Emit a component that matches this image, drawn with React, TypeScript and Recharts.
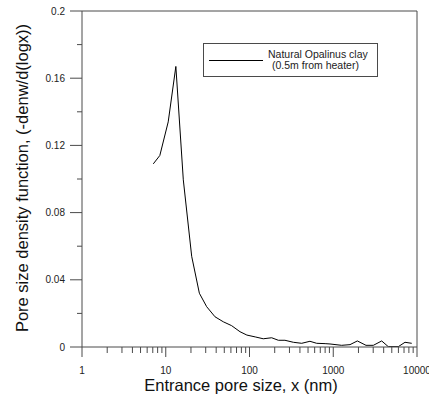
import React from "react";
import { LineChart, Line, XAxis, YAxis, ReferenceLine } from "recharts";

// entrance pore size (nm)
const poreSize = [
  7.1, 8.5, 10.7, 13.2, 16.2, 20.4, 25.2, 30.8, 38.7, 48.7, 61.2, 77, 93, 117,
  146, 184, 221, 265, 334, 420, 527, 634, 800, 914, 1260, 1585, 1940, 2460,
  3010, 3790, 4540, 5980, 7190, 8650,
];
// pore size density function (-denw/d(logx))
const density = [
  0.109, 0.114, 0.134, 0.167, 0.0995, 0.054, 0.032, 0.024, 0.018, 0.015,
  0.0127, 0.0091, 0.0071, 0.006, 0.0049, 0.0055, 0.004, 0.004, 0.0028, 0.0022,
  0.0034, 0.0022, 0.002, 0.0018, 0.001, 0.0014, 0.0036, 0.001, 0.001, 0.0036,
  0.0002, 0.0002, 0.0028, 0.0022,
];

const xMajorTicks = [1, 10, 100, 1000, 10000];
const xMinorTicks = [1, 10, 100, 1000].flatMap((d) =>
  [2, 3, 4, 5, 6, 7, 8, 9].map((m) => m * d)
);
const yMajorTicks = [0, 0.04, 0.08, 0.12, 0.16, 0.2];
const yMinorTicks = [0.02, 0.06, 0.1, 0.14, 0.18];

const seriesName = "Natural Opalinus clay";
const seriesNote = "(0.5m from heater)";
const xTitle = "Entrance pore size, x (nm)";
const yTitle = "Pore size density function, (-denw/d(logx))";

const FONT = '"Liberation Sans", Arial, sans-serif';
const AXIS = "#4a4a4a";

const data = poreSize.map((x, i) => ({ x, y: density[i] }));

function XTick(props: any) {
  const { x, y, payload } = props;
  const major = xMajorTicks.includes(payload.value);
  return (
    <g>
      <line x1={x} x2={x} y1={y} y2={y + (major ? 10 : 6)} stroke={AXIS} />
      {major && (
        <text x={x} y={y + 26.5} textAnchor="middle" fontSize={10} fill="#222" fontFamily={FONT}>
          {payload.value}
        </text>
      )}
    </g>
  );
}

function YTick(props: any) {
  const { x, y, payload } = props;
  const major = yMajorTicks.includes(payload.value);
  return (
    <g>
      <line x1={x - (major ? 12 : 5)} x2={x} y1={y} y2={y} stroke={AXIS} />
      {major && (
        <text x={x - 17} y={y + 3.5} textAnchor="end" fontSize={10} fill="#222" fontFamily={FONT}>
          {String(payload.value)}
        </text>
      )}
    </g>
  );
}

export default function App() {
  return (
    <div style={{ position: "absolute", left: 0, top: 0, width: 429, height: 396, background: "#fff", fontFamily: FONT }}>
      <LineChart
        width={429}
        height={396}
        data={data}
        margin={{ top: 11, right: 12, left: 62, bottom: 29 }}
      >
        <XAxis
          dataKey="x"
          type="number"
          scale="log"
          domain={[1, 10000]}
          allowDataOverflow
          ticks={[...xMajorTicks, ...xMinorTicks].sort((a, b) => a - b)}
          interval={0}
          height={20}
          tickSize={0}
          tickMargin={0}
          tick={<XTick />}
          axisLine={{ stroke: AXIS }}
        />
        <YAxis
          type="number"
          domain={[0, 0.2]}
          allowDataOverflow
          ticks={[...yMajorTicks, ...yMinorTicks].sort((a, b) => a - b)}
          interval={0}
          width={20}
          tickSize={0}
          tickMargin={0}
          tick={<YTick />}
          axisLine={{ stroke: AXIS }}
        />
        <ReferenceLine y={0.2} stroke={AXIS} />
        <ReferenceLine x={10000} stroke={AXIS} />
        <Line
          type="linear"
          dataKey="y"
          name={seriesName}
          stroke="#000"
          strokeWidth={1}
          dot={false}
          isAnimationActive={false}
        />
      </LineChart>

      {/* legend box */}
      <div
        style={{
          position: "absolute",
          left: 203,
          top: 43,
          width: 175,
          height: 34,
          border: `1px solid ${AXIS}`,
          boxSizing: "border-box",
        }}
      >
        <div style={{ position: "absolute", left: 5, top: 16, width: 54, borderTop: "1px solid #000" }} />
        <div
          style={{
            position: "absolute",
            left: 64,
            top: 5,
            fontSize: 10.5,
            lineHeight: "10.5px",
            color: "#222",
            whiteSpace: "nowrap",
          }}
        >
          <div>{seriesName}</div>
          <div style={{ paddingLeft: 4 }}>{seriesNote}</div>
        </div>
      </div>

      <div
        style={{
          position: "absolute",
          left: 241,
          top: 385,
          transform: "translate(-50%, -50%)",
          fontSize: 16.5,
          color: "#111",
          whiteSpace: "nowrap",
        }}
      >
        {xTitle}
      </div>
      <div
        style={{
          position: "absolute",
          left: 22,
          top: 178,
          transform: "translate(-50%, -50%) rotate(-90deg)",
          fontSize: 16.5,
          color: "#111",
          whiteSpace: "nowrap",
        }}
      >
        {yTitle}
      </div>
    </div>
  );
}
